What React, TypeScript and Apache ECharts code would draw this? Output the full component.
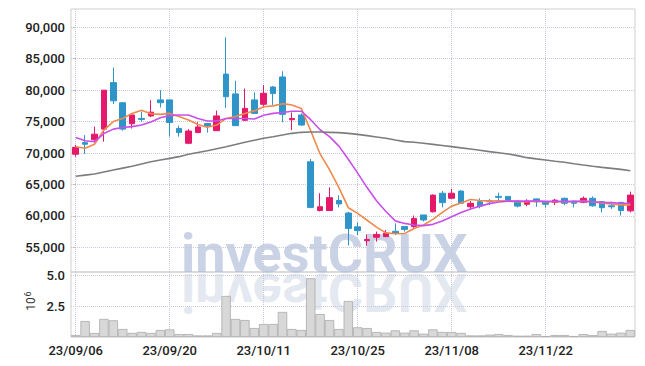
import React, { useEffect, useRef } from "react";
import * as echarts from "echarts";

const dates = [
  "23/09/06", "23/09/07", "23/09/08", "23/09/11", "23/09/12", "23/09/13", "23/09/14", "23/09/15", "23/09/18", "23/09/19",
  "23/09/20", "23/09/21", "23/09/22", "23/09/25", "23/09/26", "23/09/27", "23/10/04", "23/10/05", "23/10/06", "23/10/10",
  "23/10/11", "23/10/12", "23/10/13", "23/10/16", "23/10/17", "23/10/18", "23/10/19", "23/10/20", "23/10/23", "23/10/24",
  "23/10/25", "23/10/26", "23/10/27", "23/10/30", "23/10/31", "23/11/01", "23/11/02", "23/11/03", "23/11/06", "23/11/07",
  "23/11/08", "23/11/09", "23/11/10", "23/11/13", "23/11/14", "23/11/15", "23/11/16", "23/11/17", "23/11/20", "23/11/21",
  "23/11/22", "23/11/23", "23/11/24", "23/11/27", "23/11/28", "23/11/29", "23/11/30", "23/12/01", "23/12/04", "23/12/05",
];

// [open, close, low, high]
const candles = [
  [69800, 70900, 69400, 71300], [71650, 71400, 69850, 72850], [72100, 73000, 71700, 74200], [73800, 80000, 71800, 80000],
  [81200, 78300, 77800, 83600], [78000, 73800, 73550, 78050], [74650, 76050, 73900, 76100], [75500, 75350, 75000, 76600],
  [75900, 76500, 75700, 78400], [78450, 78000, 77250, 80000], [78450, 74850, 72600, 78450], [73900, 73250, 72600, 74350],
  [71550, 73500, 71400, 73800], [73250, 74150, 73250, 74900], [74700, 74300, 73250, 74750], [73550, 75900, 73550, 76750],
  [82550, 78950, 77200, 88400], [79400, 74350, 74350, 81500], [75200, 77100, 75200, 80250], [78450, 76300, 76300, 79650],
  [77750, 79500, 77200, 80800], [80500, 79450, 77650, 80650], [82100, 76150, 74900, 83000], [75300, 75500, 73650, 76450],
  [76050, 74450, 74350, 76300], [68600, 61350, 61200, 69050], [60850, 61450, 60700, 63600], [60850, 62900, 60850, 64550],
  [62450, 61900, 61350, 63300], [60450, 58000, 55300, 60650], [58250, 57650, 56950, 58950], [56050, 56250, 55250, 57050],
  [56600, 57050, 55900, 57500], [56700, 57250, 56700, 57750], [57550, 57200, 56950, 58800], [58300, 57850, 57500, 58300],
  [58300, 59600, 58100, 60050], [60150, 59350, 59100, 60150], [60650, 63300, 60550, 63400], [63600, 62100, 61350, 63950],
  [62800, 63600, 62700, 64300], [63950, 62000, 61900, 64050], [61450, 62000, 60950, 62350], [62250, 61550, 61200, 62800],
  [62400, 62250, 61750, 62700], [63100, 62950, 62400, 63700], [63100, 62350, 62300, 63150], [62350, 61550, 61350, 62450],
  [61850, 62350, 61550, 62650], [62700, 62250, 61450, 62750], [62150, 61850, 61350, 62350], [62150, 62500, 61700, 62700],
  [62800, 62000, 61700, 62900], [62350, 62000, 61350, 62400], [62150, 62800, 62000, 63100], [62800, 61600, 61450, 63100],
  [62250, 61300, 60550, 62350], [61600, 61450, 61100, 62250], [62150, 60850, 60050, 62200], [60800, 63300, 60550, 63850],
];

const ma5 = [
  71000, 70750, 71400, 73650, 75000, 75500, 76300, 76800, 76250, 76150,
  76300, 75800, 75250, 74550, 74100, 74450, 75500, 75800, 76300, 76700,
  77350, 77500, 77850, 77650, 77100, 73550, 69850, 67350, 64500, 61300,
  60400, 59300, 58200, 57300, 57150, 57200, 58000, 58550, 59450, 60550,
  61550, 62050, 62600, 62450, 62350, 62400, 62350, 62250, 62250, 62350,
  62250, 62250, 62250, 62250, 62350, 62250, 62000, 61900, 61750, 61750,
];

const ma10 = [
  72450, 71950, 71800, 73100, 73800, 74050, 74200, 74450, 74950, 75600,
  75950, 76050, 76050, 75500, 75100, 75100, 75500, 75500, 75500, 75400,
  76000, 76300, 76450, 76650, 76650, 75300, 73700, 72600, 71100, 69000,
  66800, 64500, 62400, 60700, 59200, 58800, 58550, 58450, 58650, 59200,
  59850, 60550, 61100, 61550, 61950, 62200, 62350, 62350, 62350, 62350,
  62300, 62300, 62300, 62300, 62300, 62250, 62150, 62100, 62000, 62000,
];

const maLong = [
  66300, 66480, 66660, 66980, 67300, 67590, 67880, 68250, 68620, 68890,
  69150, 69420, 69790, 70080, 70370, 70690, 71010, 71350, 71700, 72020,
  72340, 72600, 72870, 73130, 73290, 73340, 73340, 73290, 73240, 73130,
  72970, 72760, 72550, 72340, 72070, 71810, 71700, 71540, 71380, 71200,
  71010, 70820, 70640, 70430, 70220, 70030, 69840, 69580, 69260, 69070,
  68890, 68700, 68520, 68300, 68090, 67900, 67720, 67560, 67400, 67190,
];

// volume in millions (10^6)
const volume = [
  0.16, 1.3, 0.33, 1.47, 1.36, 0.65, 0.33, 0.41, 0.33, 0.57,
  0.62, 0.24, 0.24, 0.13, 0.13, 0.33, 3.34, 1.47, 1.38, 0.73,
  1.06, 1.06, 2.04, 0.65, 0.57, 4.78, 1.87, 1.38, 0.65, 2.93,
  0.79, 0.73, 0.41, 0.35, 0.54, 0.35, 0.54, 0.27, 0.62, 0.41,
  0.41, 0.33, 0.13, 0.13, 0.19, 0.24, 0.16, 0.11, 0.11, 0.24,
  0.08, 0.16, 0.16, 0.08, 0.24, 0.16, 0.49, 0.27, 0.35, 0.57,
];

const UP = "#e5196a";
const DOWN = "#2f95c9";
const GRID_LINE = "#c6cad8";
const BORDER = "#cfcfcf";
const LABEL_FONT = { fontFamily: "Roboto", fontSize: 13, fontWeight: 500, color: "#222" };

export default function App() {
  const ref = useRef<HTMLDivElement>(null);

  useEffect(() => {
    document.body.style.margin = "0";
    if (!ref.current) return;
    const chart = echarts.init(ref.current, undefined, { renderer: "svg" });

    const hiddenValueX = (gridIndex: number) => ({
      type: "value",
      gridIndex,
      min: -0.5,
      max: dates.length - 0.5,
      minInterval: 10,
      maxInterval: 10,
      axisLine: { show: false },
      axisTick: { show: false },
      axisLabel: { show: false },
      splitLine: {
        show: true,
        showMinLine: false,
        showMaxLine: false,
        lineStyle: { type: "dotted", color: GRID_LINE, width: 1 },
      },
    });

    chart.setOption({
      animation: false,
      backgroundColor: "#ffffff",
      grid: [
        { left: 71, right: 10, top: 9, height: 263, show: true, borderColor: BORDER, borderWidth: 1, backgroundColor: "transparent" },
        { left: 71, right: 10, top: 272, height: 65, show: true, borderColor: BORDER, borderWidth: 1, backgroundColor: "transparent" },
      ],
      xAxis: [
        {
          type: "category",
          gridIndex: 0,
          data: dates,
          boundaryGap: true,
          axisLine: { show: false },
          axisTick: { show: false },
          axisLabel: { show: false },
          splitLine: { show: false },
        },
        {
          type: "category",
          gridIndex: 1,
          data: dates,
          boundaryGap: true,
          axisLine: { show: false },
          axisTick: { show: false },
          axisLabel: { ...LABEL_FONT, interval: 9, margin: 7 },
          splitLine: { show: false },
        },
        hiddenValueX(0),
        hiddenValueX(1),
      ],
      yAxis: [
        {
          type: "value",
          gridIndex: 0,
          min: 51070,
          max: 92910,
          minInterval: 5000,
          maxInterval: 5000,
          axisLine: { show: false },
          axisTick: { show: true, length: 3, lineStyle: { color: "#bbb" } },
          axisLabel: {
            ...LABEL_FONT,
            margin: 6,
            showMinLabel: false,
            showMaxLabel: false,
            formatter: (v: number) => (v % 5000 === 0 ? v.toLocaleString("en-US") : ""),
          },
          splitLine: {
            show: true,
            showMinLine: false,
            showMaxLine: false,
            lineStyle: { type: "dotted", color: GRID_LINE, width: 1 },
          },
        },
        {
          type: "value",
          gridIndex: 1,
          min: 0,
          max: 5.29,
          minInterval: 2.5,
          maxInterval: 2.5,
          axisLine: { show: false },
          axisTick: { show: false },
          axisLabel: {
            ...LABEL_FONT,
            margin: 6,
            showMinLabel: false,
            showMaxLabel: false,
            formatter: (v: number) => (Math.abs(v % 2.5) < 1e-9 && v > 0 ? v.toFixed(1) : ""),
          },
          splitLine: {
            show: true,
            showMinLine: false,
            showMaxLine: false,
            lineStyle: { type: "dotted", color: GRID_LINE, width: 1 },
          },
        },
      ],
      graphic: [
        {
          type: "text",
          x: 181,
          y: 272,
          z: 0,
          style: {
            x: 0,
            y: -19,
            text: "investCRUX",
            fontFamily: "Roboto",
            fontWeight: "bold",
            fontSize: 54,
            verticalAlign: "middle",
            fill: "rgba(170,182,214,0.62)",
          },
        },
        {
          type: "text",
          x: 181,
          y: 273,
          scaleY: -1,
          z: 0,
          style: {
            x: 0,
            y: -19,
            text: "investCRUX",
            fontFamily: "Roboto",
            fontWeight: "bold",
            fontSize: 54,
            verticalAlign: "middle",
            fill: "rgba(185,194,220,0.38)",
          },
        },
        {
          type: "text",
          x: 31,
          y: 304,
          rotation: Math.PI / 2,
          style: {
            text: "10",
            fontFamily: "Roboto",
            fontSize: 12,
            fill: "#333",
            align: "center",
            verticalAlign: "middle",
          },
        },
        {
          type: "text",
          x: 28,
          y: 294,
          rotation: Math.PI / 2,
          style: {
            text: "6",
            fontFamily: "Roboto",
            fontSize: 9,
            fill: "#333",
            align: "center",
            verticalAlign: "middle",
          },
        },
      ],
      series: [
        {
          type: "candlestick",
          xAxisIndex: 0,
          yAxisIndex: 0,
          data: candles,
          barWidth: 6,
          itemStyle: {
            color: UP,
            color0: DOWN,
            borderColor: UP,
            borderColor0: DOWN,
            borderWidth: 1,
          },
        },
        {
          type: "line",
          name: "MA5",
          xAxisIndex: 0,
          yAxisIndex: 0,
          data: ma5,
          symbol: "none",
          lineStyle: { color: "#f0894c", width: 1.6 },
        },
        {
          type: "line",
          name: "MA10",
          xAxisIndex: 0,
          yAxisIndex: 0,
          data: ma10,
          symbol: "none",
          lineStyle: { color: "#c84fec", width: 1.6 },
        },
        {
          type: "line",
          name: "MA60",
          xAxisIndex: 0,
          yAxisIndex: 0,
          data: maLong,
          symbol: "none",
          lineStyle: { color: "#7d7d7d", width: 1.6 },
        },
        {
          type: "bar",
          xAxisIndex: 1,
          yAxisIndex: 1,
          data: volume,
          barWidth: "100%",
          itemStyle: { color: "#d8d8d8", borderColor: "#ababab", borderWidth: 0.8 },
        },
      ],
    });

    return () => chart.dispose();
  }, []);

  return (
    <div
      ref={ref}
      style={{ position: "absolute", left: 0, top: 0, width: 645, height: 366 }}
    />
  );
}
